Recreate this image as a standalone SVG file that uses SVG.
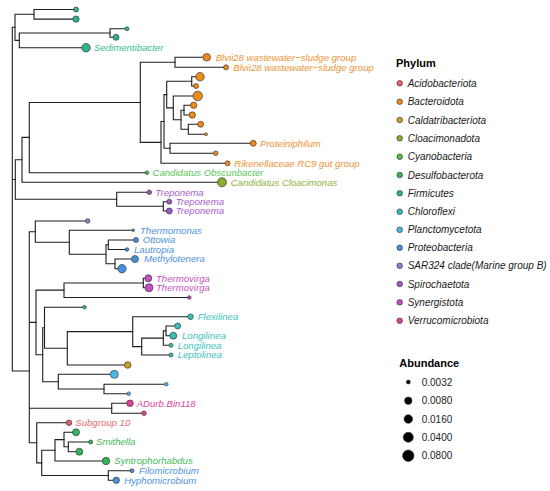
<svg xmlns="http://www.w3.org/2000/svg" width="550" height="491" viewBox="0 0 550 491">
<style>
.e{fill:none;stroke:#1e1e1e;stroke-width:1.1;stroke-linecap:square}
circle{stroke:#2a2a2a;stroke-width:0.6}
text{font-family:"Liberation Sans",Arial,sans-serif}
.lb{font-size:9.6px;font-style:italic}
.lg{font-size:10px;font-style:italic;fill:#1a1a1a}
.tt{font-size:11px;font-weight:bold;fill:#000}
.ab{font-size:10px;fill:#222}
.aci{fill:#e5616d}.bac{fill:#ec8b1c}.cal{fill:#c7a127}.clo{fill:#86ae2a}.cya{fill:#52bb45}.des{fill:#35b35a}.fir{fill:#2fb38e}.chl{fill:#38bdb8}.pla{fill:#4ab7e8}.pro{fill:#4a8fd9}.sar{fill:#8e7ecd}.spi{fill:#9d58c9}.syn{fill:#c64fc3}.ver{fill:#e2409b}
.taci{fill:#ea6a74}.tbac{fill:#ee9335}.tclo{fill:#8db43a}.tcya{fill:#5cc55a}.tdes{fill:#45b95a}.tfir{fill:#3cbb93}.tchl{fill:#40c2bd}.tpro{fill:#4f93dc}.tspi{fill:#a660d0}.tsyn{fill:#c853c6}.tver{fill:#e1449f}
</style>
<rect width="550" height="491" fill="#fff"/>
<g id="connectors">
<path class="e" d="M12.3,27.3V371 M12.3,27.3H15 M12.3,179.5H15.3 M12.3,371H29.3"/>
<path class="e" d="M15,14.3V40.4 M15,14.3H34 M15,40.4H19.3"/>
<path class="e" d="M34,9.5V19.1 M34,9.5H76 M34,19.1H76"/>
<path class="e" d="M19.3,33V47.7 M19.3,33H110 M19.3,47.7H86"/>
<path class="e" d="M110,28.7V37.3 M110,28.7H127 M110,37.3H116"/>
<path class="e" d="M15.3,159.8V199.2 M15.3,159.8H22 M15.3,199.2H116.7"/>
<path class="e" d="M116.7,192.3V206.3 M116.7,192.3H149.3 M116.7,206.3H163.3"/>
<path class="e" d="M163.3,201.7V211 M163.3,201.7H169.3 M163.3,211H169.3"/>
<path class="e" d="M22,137.4V182.3 M22,137.4H29.3 M22,182.3H222"/>
<path class="e" d="M29.3,102.5V172.7 M29.3,102.5H140.3 M29.3,172.7H147"/>
<path class="e" d="M140.3,62.3V142.4 M140.3,62.3H175 M140.3,142.4H161"/>
<path class="e" d="M175,57.3V67.3 M175,57.3H206.7 M175,67.3H226"/>
<path class="e" d="M161,121.5V163.3 M161,121.5H164 M161,163.3H227.5"/>
<path class="e" d="M164,94.6V148.3 M164,94.6H166.7 M164,148.3H170"/>
<path class="e" d="M170,143.3V153.3 M170,143.3H253.3 M170,153.3H215.7"/>
<path class="e" d="M166.7,81.3V107.9 M166.7,81.3H191.7 M166.7,107.9H173.3"/>
<path class="e" d="M191.7,76.7V86 M191.7,76.7H200 M191.7,86H196"/>
<path class="e" d="M173.3,96V119.8 M173.3,96H197.7 M173.3,119.8H181"/>
<path class="e" d="M181,110.2V129.3 M181,110.2H184 M181,129.3H188.3"/>
<path class="e" d="M184,105.3V115 M184,105.3H193.7 M184,115H192.3"/>
<path class="e" d="M188.3,124.3V134.3 M188.3,124.3H200.7 M188.3,134.3H206"/>
<path class="e" d="M29.3,231.7V442.8 M29.3,231.7H35.3 M29.3,322.4H36 M29.3,408.3H111.7 M29.3,442.8H36.7"/>
<path class="e" d="M35.3,221V242.3 M35.3,221H87.7 M35.3,242.3H69.3"/>
<path class="e" d="M69.3,230.3V254.3 M69.3,230.3H133.3 M69.3,254.3H106"/>
<path class="e" d="M106,244.8V263.8 M106,244.8H108.3 M106,263.8H115"/>
<path class="e" d="M108.3,240V249.5 M108.3,240H136 M108.3,249.5H127"/>
<path class="e" d="M115,259V268.7 M115,259H135 M115,268.7H122"/>
<path class="e" d="M36,290.1V354.7 M36,290.1H64 M36,354.7H42.7"/>
<path class="e" d="M64,283V297.5 M64,283H143.3 M64,297.5H189.3"/>
<path class="e" d="M143.3,278.3V287.7 M143.3,278.3H148.3 M143.3,287.7H149"/>
<path class="e" d="M42.7,327.8V381.7 M42.7,327.8H44.5 M42.7,381.7H58.3"/>
<path class="e" d="M44.5,307.2V348.3 M44.5,307.2H84.5 M44.5,348.3H67.3"/>
<path class="e" d="M67.3,331.6V365 M67.3,331.6H132.7 M67.3,365H127.7"/>
<path class="e" d="M132.7,316.7V346.6 M132.7,316.7H190.5 M132.7,346.6H141.7"/>
<path class="e" d="M141.7,338.1V355 M141.7,338.1H163.3 M141.7,355H171"/>
<path class="e" d="M163.3,330.9V345.3 M163.3,330.9H166 M163.3,345.3H171"/>
<path class="e" d="M166,326V335.7 M166,326H177.7 M166,335.7H173.3"/>
<path class="e" d="M58.3,374.3V389 M58.3,374.3H114.3 M58.3,389H104"/>
<path class="e" d="M104,384.3V393.7 M104,384.3H166.3 M104,393.7H128.7"/>
<path class="e" d="M111.7,403.3V413.3 M111.7,403.3H130 M111.7,413.3H144"/>
<path class="e" d="M36.7,422.7V462.9 M36.7,422.7H69 M36.7,462.9H41.7"/>
<path class="e" d="M41.7,450.3V475.5 M41.7,450.3H55 M41.7,475.5H108.3"/>
<path class="e" d="M55,439.6V461 M55,439.6H64 M55,461H106"/>
<path class="e" d="M64,432.3V446.8 M64,432.3H76 M64,446.8H68.3"/>
<path class="e" d="M68.3,442V451.7 M68.3,442H90.7 M68.3,451.7H79.3"/>
<path class="e" d="M108.3,470.7V480.3 M108.3,470.7H132 M108.3,480.3H116.3"/>
</g>
<g id="leaves">
<g id="leaf0"><circle class="fir" cx="76" cy="9.5" r="2.5"/></g>
<g id="leaf1"><circle class="fir" cx="76" cy="19.1" r="3.2"/></g>
<g id="leaf2"><circle class="fir" cx="127" cy="28.7" r="2"/></g>
<g id="leaf3"><circle class="fir" cx="116" cy="37.3" r="3"/></g>
<g id="leaf4"><circle class="fir" cx="86" cy="47.7" r="4.3"/><text class="lb tfir" x="94" y="51.1">Sedimentibacter</text></g>
<g id="leaf5"><circle class="bac" cx="206.7" cy="57.3" r="3.8"/><text class="lb tbac" x="215.7" y="60.7">Blvii28 wastewater−sludge group</text></g>
<g id="leaf6"><circle class="bac" cx="226" cy="67.3" r="2.5"/><text class="lb tbac" x="233.3" y="70.7">Blvii28 wastewater−sludge group</text></g>
<g id="leaf7"><circle class="bac" cx="200" cy="76.7" r="4.3"/></g>
<g id="leaf8"><circle class="bac" cx="196" cy="86" r="2.5"/></g>
<g id="leaf9"><circle class="bac" cx="197.7" cy="96" r="4.8"/></g>
<g id="leaf10"><circle class="bac" cx="193.7" cy="105.3" r="3.2"/></g>
<g id="leaf11"><circle class="bac" cx="192.3" cy="115" r="3.2"/></g>
<g id="leaf12"><circle class="bac" cx="200.7" cy="124.3" r="3"/></g>
<g id="leaf13"><circle class="bac" cx="206" cy="134.3" r="1.5"/></g>
<g id="leaf14"><circle class="bac" cx="253.3" cy="143.3" r="3"/><text class="lb tbac" x="260" y="146.7">Proteiniphilum</text></g>
<g id="leaf15"><circle class="bac" cx="215.7" cy="153.3" r="2.3"/></g>
<g id="leaf16"><circle class="bac" cx="227.5" cy="163.3" r="2.5"/><text class="lb tbac" x="234.3" y="166.7">Rikenellaceae RC9 gut group</text></g>
<g id="leaf17"><circle class="cya" cx="147" cy="172.7" r="1.8"/><text class="lb tcya" x="152.5" y="176.1">Candidatus Obscunbacter</text></g>
<g id="leaf18"><circle class="clo" cx="222" cy="182.3" r="4.5"/><text class="lb tclo" x="230.7" y="185.7">Candidatus Cloacimonas</text></g>
<g id="leaf19"><circle class="spi" cx="149.3" cy="192.3" r="2.3"/><text class="lb tspi" x="155.3" y="195.7">Treponema</text></g>
<g id="leaf20"><circle class="spi" cx="169.3" cy="201.7" r="2.5"/><text class="lb tspi" x="175.7" y="205.1">Treponema</text></g>
<g id="leaf21"><circle class="spi" cx="169.3" cy="211" r="3"/><text class="lb tspi" x="175.7" y="214.4">Treponema</text></g>
<g id="leaf22"><circle class="sar" cx="87.7" cy="221" r="2.3"/></g>
<g id="leaf23"><circle class="pro" cx="133.3" cy="230.3" r="1.3"/><text class="lb tpro" x="140" y="233.7">Thermomonas</text></g>
<g id="leaf24"><circle class="pro" cx="136" cy="240" r="2.5"/><text class="lb tpro" x="142.7" y="243.4">Ottowia</text></g>
<g id="leaf25"><circle class="pro" cx="127" cy="249.5" r="1.8"/><text class="lb tpro" x="134" y="252.9">Lautropia</text></g>
<g id="leaf26"><circle class="pro" cx="135" cy="259" r="3.5"/><text class="lb tpro" x="144" y="262.4">Methylotenera</text></g>
<g id="leaf27"><circle class="pro" cx="122" cy="268.7" r="4.2"/></g>
<g id="leaf28"><circle class="syn" cx="148.3" cy="278.3" r="3.5"/><text class="lb tsyn" x="156" y="281.7">Thermovirga</text></g>
<g id="leaf29"><circle class="syn" cx="149" cy="287.7" r="4"/><text class="lb tsyn" x="156" y="291.1">Thermovirga</text></g>
<g id="leaf30"><circle class="syn" cx="189.3" cy="297.5" r="1.8"/></g>
<g id="leaf31"><circle class="fir" cx="84.5" cy="307.2" r="1.8"/></g>
<g id="leaf32"><circle class="chl" cx="190.5" cy="316.7" r="2.8"/><text class="lb tchl" x="197.7" y="320.1">Flexilinea</text></g>
<g id="leaf33"><circle class="chl" cx="177.7" cy="326" r="3"/></g>
<g id="leaf34"><circle class="chl" cx="173.3" cy="335.7" r="3.5"/><text class="lb tchl" x="182" y="339.1">Longilinea</text></g>
<g id="leaf35"><circle class="chl" cx="171" cy="345.3" r="2"/><text class="lb tchl" x="177.7" y="348.7">Longilinea</text></g>
<g id="leaf36"><circle class="chl" cx="171" cy="355" r="2"/><text class="lb tchl" x="177.7" y="358.4">Leptolinea</text></g>
<g id="leaf37"><circle class="cal" cx="127.7" cy="365" r="3.3"/></g>
<g id="leaf38"><circle class="pla" cx="114.3" cy="374.3" r="4"/></g>
<g id="leaf39"><circle class="pla" cx="166.3" cy="384.3" r="1.8"/></g>
<g id="leaf40"><circle class="pla" cx="128.7" cy="393.7" r="1.8"/></g>
<g id="leaf41"><circle class="ver" cx="130" cy="403.3" r="3.3"/><text class="lb tver" x="136.7" y="406.7">ADurb.Bin118</text></g>
<g id="leaf42"><circle class="ver" cx="144" cy="413.3" r="2.3"/></g>
<g id="leaf43"><circle class="aci" cx="69" cy="422.7" r="2.8"/><text class="lb taci" x="75.3" y="426.1">Subgroup 10</text></g>
<g id="leaf44"><circle class="des" cx="76" cy="432.3" r="3.5"/></g>
<g id="leaf45"><circle class="des" cx="90.7" cy="442" r="2"/><text class="lb tdes" x="96" y="445.4">Smithella</text></g>
<g id="leaf46"><circle class="des" cx="79.3" cy="451.7" r="3.5"/></g>
<g id="leaf47"><circle class="des" cx="106" cy="461" r="3.7"/><text class="lb tdes" x="114.3" y="464.4">Syntrophorhabdus</text></g>
<g id="leaf48"><circle class="pro" cx="132" cy="470.7" r="2"/><text class="lb tpro" x="139" y="474.1">Filomicrobium</text></g>
<g id="leaf49"><circle class="pro" cx="116.3" cy="480.3" r="3.2"/><text class="lb tpro" x="124.3" y="483.7">Hyphomicrobium</text></g>
</g>
<g id="legend-phylum">
<text class="tt" x="396" y="67.3">Phylum</text>
<circle class="aci" cx="399.7" cy="83.3" r="2.8"/><text class="lg" x="407.7" y="86.8">Acidobacteriota</text>
<circle class="bac" cx="399.7" cy="101.7" r="2.8"/><text class="lg" x="407.7" y="105.2">Bacteroidota</text>
<circle class="cal" cx="399.7" cy="120" r="2.8"/><text class="lg" x="407.7" y="123.5">Caldatribacteriota</text>
<circle class="clo" cx="399.7" cy="138.3" r="2.8"/><text class="lg" x="407.7" y="141.8">Cloacimonadota</text>
<circle class="cya" cx="399.7" cy="156.7" r="2.8"/><text class="lg" x="407.7" y="160.2">Cyanobacteria</text>
<circle class="des" cx="399.7" cy="175" r="2.8"/><text class="lg" x="407.7" y="178.5">Desulfobacterota</text>
<circle class="fir" cx="399.7" cy="193.3" r="2.8"/><text class="lg" x="407.7" y="196.8">Firmicutes</text>
<circle class="chl" cx="399.7" cy="211.7" r="2.8"/><text class="lg" x="407.7" y="215.2">Chloroflexi</text>
<circle class="pla" cx="399.7" cy="229.8" r="2.8"/><text class="lg" x="407.7" y="233.3">Planctomycetota</text>
<circle class="pro" cx="399.7" cy="247.7" r="2.8"/><text class="lg" x="407.7" y="251.2">Proteobacteria</text>
<circle class="sar" cx="399.7" cy="265.8" r="2.8"/><text class="lg" x="407.7" y="269.3">SAR324 clade(Marine group B)</text>
<circle class="spi" cx="399.7" cy="284" r="2.8"/><text class="lg" x="407.7" y="287.5">Spirochaetota</text>
<circle class="syn" cx="399.7" cy="302.3" r="2.8"/><text class="lg" x="407.7" y="305.8">Synergistota</text>
<circle class="ver" cx="399.7" cy="320.7" r="2.8"/><text class="lg" x="407.7" y="324.2">Verrucomicrobiota</text>
</g>
<g id="legend-abundance">
<text class="tt" x="399.3" y="367.3">Abundance</text>
<circle cx="408.3" cy="382" r="2" fill="#000"/><text class="ab" x="421.7" y="385.6">0.0032</text>
<circle cx="408.3" cy="400.7" r="3.7" fill="#000"/><text class="ab" x="421.7" y="404.3">0.0080</text>
<circle cx="408.3" cy="419" r="4.3" fill="#000"/><text class="ab" x="421.7" y="422.6">0.0160</text>
<circle cx="408.3" cy="437.3" r="5" fill="#000"/><text class="ab" x="421.7" y="440.9">0.0400</text>
<circle cx="408.3" cy="455.7" r="5.7" fill="#000"/><text class="ab" x="421.7" y="459.3">0.0800</text>
</g>
</svg>
